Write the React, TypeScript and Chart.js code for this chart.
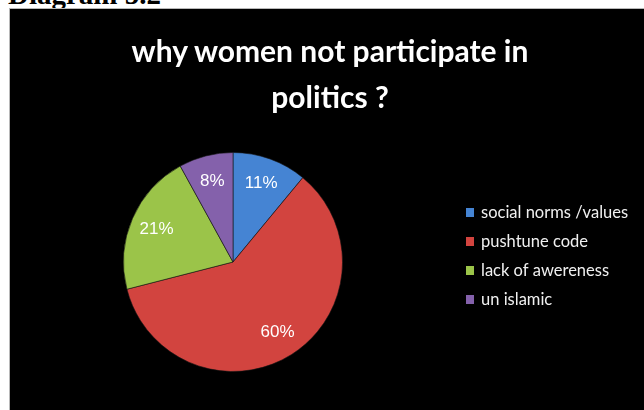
import React, { useEffect, useRef } from "react";
import { Chart, registerables } from "chart.js";

Chart.register(...registerables);

const categories = ["social norms /values", "pushtune code", "lack of awereness", "un islamic"];
const values = [11, 60, 21, 8];
const colors = ["#4584d3", "#d2443f", "#9bc449", "#8461ab"];
const titleLines = ["why women not participate in", "politics ?"];
const caption = "Diagram 5.2";

const labelPlugin = {
  id: "sliceLabels",
  afterDatasetsDraw(chart: any) {
    const ctx = chart.ctx;
    const meta = chart.getDatasetMeta(0);
    const data = chart.data.datasets[0].data as number[];
    ctx.save();
    ctx.fillStyle = "#ffffff";
    ctx.font = "17px 'Liberation Sans', Arial, sans-serif";
    ctx.textAlign = "center";
    ctx.textBaseline = "middle";
    meta.data.forEach((arc: any, i: number) => {
      const p = arc.getProps(["x", "y", "startAngle", "endAngle", "outerRadius"], true);
      const mid = (p.startAngle + p.endAngle) / 2;
      const r = p.outerRadius * 0.76;
      ctx.fillText(data[i] + "%", p.x + Math.cos(mid) * r, p.y + Math.sin(mid) * r);
    });
    ctx.restore();
  },
};

const legendPlugin = {
  id: "sideLegend",
  afterDraw(chart: any) {
    const ctx = chart.ctx;
    const labels = chart.data.labels as string[];
    const bg = chart.data.datasets[0].backgroundColor as string[];
    const x0 = 456;
    const y0 = 204;
    const step = 29;
    ctx.save();
    ctx.font = "16.5px Lato, 'Open Sans', sans-serif";
    ctx.textBaseline = "middle";
    ctx.textAlign = "left";
    labels.forEach((lab, i) => {
      const y = y0 + i * step;
      ctx.fillStyle = bg[i];
      ctx.fillRect(x0, y - 5, 8, 9);
      ctx.fillStyle = "#f0f0f0";
      ctx.fillText(lab, x0 + 15, y);
    });
    ctx.restore();
  },
};

export default function App() {
  const ref = useRef<HTMLCanvasElement | null>(null);
  useEffect(() => {
    if (!ref.current) return;
    const chart = new Chart(ref.current, {
      type: "pie",
      data: {
        labels: categories,
        datasets: [
          {
            data: values,
            backgroundColor: colors,
            borderColor: "rgba(20,20,20,0.6)",
            borderWidth: 1,
            hoverOffset: 0,
          },
        ],
      },
      options: {
        animation: false,
        responsive: false,
        maintainAspectRatio: false,
        layout: { padding: { left: 113, right: 301, top: 141, bottom: 36 } },
        plugins: {
          legend: { display: false },
          tooltip: { enabled: false },
          title: { display: false },
        },
      },
      plugins: [labelPlugin, legendPlugin],
    });
    return () => chart.destroy();
  }, []);

  return (
    <div style={{ position: "fixed", left: 0, top: 0, width: 644, height: 410, background: "#fff", overflow: "hidden" }}>
      <div
        style={{
          position: "absolute",
          left: 8,
          top: -20,
          font: "bold 29px 'Liberation Serif', serif",
          lineHeight: "29px",
          color: "#000",
          whiteSpace: "nowrap",
        }}
      >
        {caption}
      </div>
      <div
        style={{
          position: "absolute",
          left: 9,
          top: 8,
          width: 635,
          height: 402,
          borderLeft: "1px solid #b8b8b8",
          borderTop: "1px solid #b8b8b8",
          background: "#000",
          boxSizing: "border-box",
        }}
      >
        <canvas ref={ref} width={634} height={401} style={{ position: "absolute", left: 0, top: 0, width: 634, height: 401 }} />
        <div
          style={{
            position: "absolute",
            left: 20,
            width: 600,
            top: 18,
            textAlign: "center",
            color: "#fff",
            font: "bold 30px Lato, 'Open Sans', sans-serif",
            lineHeight: "46px",
          }}
        >
          {titleLines.map((t, i) => (
            <div key={i}>{t}</div>
          ))}
        </div>
      </div>
    </div>
  );
}
